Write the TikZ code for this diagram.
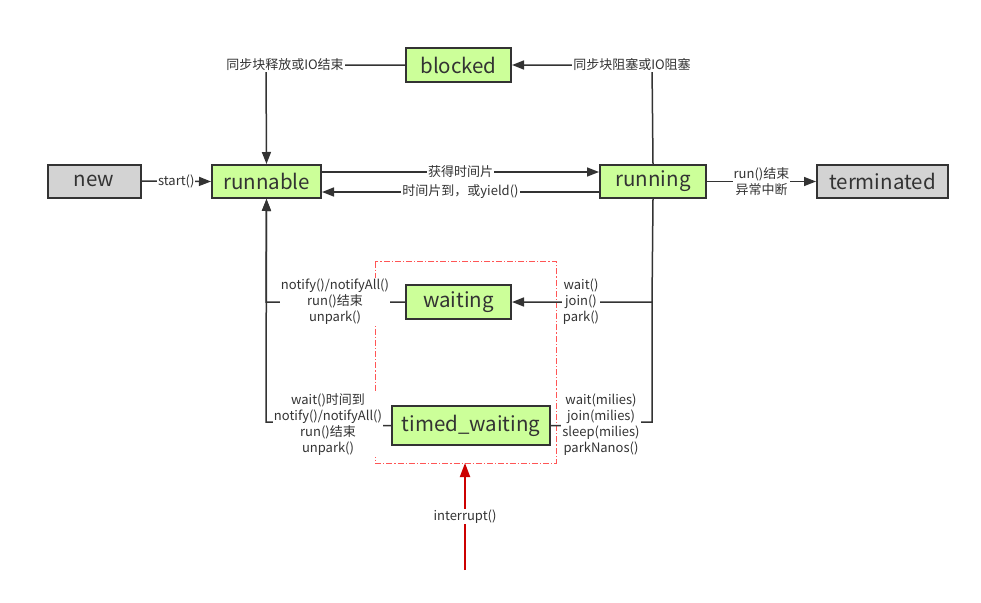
\documentclass[tikz,border=0pt]{standalone}
\usepackage{fontspec}
\setmainfont{Noto Sans CJK SC}
\usetikzlibrary{arrows.meta}
\definecolor{ink}{HTML}{333333}
\definecolor{stategreen}{HTML}{CCFF99}
\definecolor{stategray}{HTML}{D3D3D3}
\definecolor{groupred}{HTML}{FF5555}
\definecolor{intred}{HTML}{CC0000}
\begin{document}
\begin{tikzpicture}[x=1pt,y=-1pt,
  state/.style={draw=ink,line width=2pt,fill=stategreen,text=ink,
    font=\fontsize{20.5}{20.5}\selectfont,inner sep=0pt},
  endstate/.style={state,fill=stategray},
  flow/.style={draw=ink,line width=1.5pt,-{Triangle[length=12pt,width=9pt]}},
  plain/.style={draw=ink,line width=1.5pt},
  lbl/.style={fill=white,text=ink,inner sep=1pt,align=center,
    font=\fontsize{13}{16}\selectfont},
  group/.style={draw=groupred,line width=1pt,
    dash pattern=on 6pt off 2pt on 1.2pt off 2pt},
  intr/.style={draw=intred,line width=2pt,-{Triangle[length=14pt,width=10pt]}}]
\useasboundingbox (0,0) rectangle (981,602);

% state nodes
\node[endstate,minimum width=93pt,minimum height=33pt] (new) at (94,181) {new};
\node[state,minimum width=109pt,minimum height=33pt] (runnable) at (266.5,181.5) {runnable};
\node[state,minimum width=106pt,minimum height=33pt] (running) at (653,181.5) {running};
\node[endstate,minimum width=131pt,minimum height=33pt] (terminated) at (882.5,181.5) {terminated};
\node[state,minimum width=105pt,minimum height=34pt] (blocked) at (458.5,65) {blocked};
\node[state,minimum width=105pt,minimum height=34pt] (waiting) at (458.5,302) {waiting};
\node[state,minimum width=158pt,minimum height=39pt] (timed) at (471,425.5) {timed\_waiting};

% waiting-states group
\coordinate (gnw) at (375,261.5);
\coordinate (gse) at (556,463);
\draw[group] (gnw) rectangle (gse);

% junction points of the orthogonal routes
\coordinate (rc) at (652,65);
\coordinate (lc) at (266,65);
\coordinate (rw) at (652,302);
\coordinate (rt) at (652,422);
\coordinate (lt) at (266,422);
\coordinate (lw) at (266,302);

% transitions
\draw[flow] (new.east) -- (runnable.west)
  node[lbl,midway] (lstart) {start()};
\draw[flow] ([yshift=9.5pt]runnable.east) -- ([yshift=9.5pt]running.west)
  node[lbl,midway] (lget) {获得时间片};
\draw[flow] ([yshift=-10.5pt]running.west) -- ([yshift=-10.5pt]runnable.east)
  node[lbl,midway] (lyield) {时间片到，或yield()};
\draw[flow] (running.east) -- (terminated.west)
  node[lbl,midway] (lend) {run()结束\\异常中断};

\draw[flow] (running.north) -- (rc) -- (blocked.east);
\node[lbl] (lblock) at (632,65) {同步块阻塞或IO阻塞};

\draw[flow] (blocked.west) -- (lc) -- (runnable.north);
\node[lbl] (lrelease) at (285,65) {同步块释放或IO结束};

\draw[flow] (running.south) -- (rw) -- (waiting.east);
\draw[plain] (rw) -- (rt) -- (600,422) -- (600,426) -- (timed.east);
\node[lbl] (lwait) at (581,302) {wait()\\join()\\park()};
\node[lbl] (ltwait) at (601,425) {wait(milies)\\join(milies)\\sleep(milies)\\parkNanos()};

\draw[flow] (waiting.west) -- (lw) -- (runnable.south);
\draw[flow] (timed.west) -- (330,426) -- (330,422) -- (lt) -- (runnable.south);
\node[lbl] (lnotify) at (335,302) {notify()/notifyAll()\\run()结束\\unpark()};
\node[lbl] (ltnotify) at (328,425) {wait()时间到\\notify()/notifyAll()\\run()结束\\unpark()};

% interrupt
\coordinate (isrc) at (465,570);
\coordinate (idst) at (465,463);
\draw[intr] (isrc) -- (idst) node[lbl,midway] (lint) {interrupt()};
\end{tikzpicture}
\end{document}
